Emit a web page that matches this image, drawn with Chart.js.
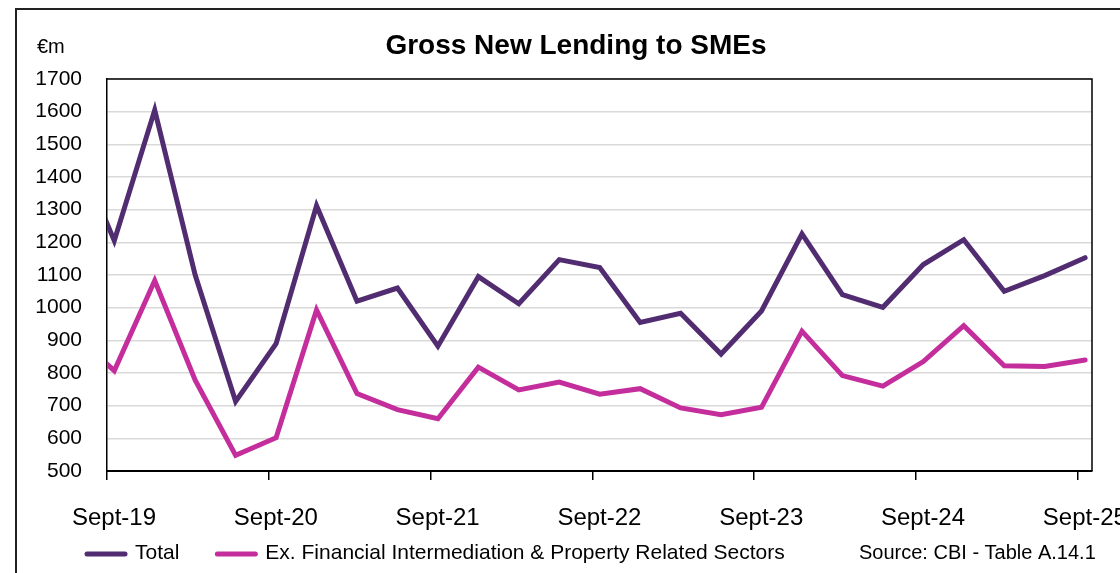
<!DOCTYPE html>
<html>
<head>
<meta charset="utf-8">
<script src="https://cdn.jsdelivr.net/npm/chart.js@4.4.1/dist/chart.umd.min.js"></script>
<style>
html,body{margin:0;padding:0;background:#fff;overflow:hidden}
#wrap{width:1120px;height:573px;position:relative}
</style>
</head>
<body>
<div id="wrap"><canvas id="c"></canvas></div>
<script>
// ---------- DATA ----------
const quarters = ['Jun-19','Sep-19','Dec-19','Mar-20','Jun-20','Sep-20','Dec-20','Mar-21','Jun-21','Sep-21','Dec-21','Mar-22','Jun-22','Sep-22','Dec-22','Mar-23','Jun-23','Sep-23','Dec-23','Mar-24','Jun-24','Sep-24','Dec-24','Mar-25','Jun-25','Sep-25'];
const totalValues = [1500,1205,1605,1100,713,890,1312,1020,1060,882,1095,1012,1147,1123,955,983,858,990,1226,1040,1001,1132,1208,1050,1098,1153];
const exFinPropValues = [920,807,1083,778,548,602,993,737,688,660,818,748,772,735,752,693,672,695,928,792,760,835,945,822,820,840];
const seriesNames = ['Total','Ex. Financial Intermediation & Property Related Sectors'];
const xTickLabels = ['Sept-19','Sept-20','Sept-21','Sept-22','Sept-23','Sept-24','Sept-25'];
const xTickQuarters = ['Sep-19','Sep-20','Sep-21','Sep-22','Sep-23','Sep-24','Sep-25'];
const yMin = 500, yMax = 1700, yStep = 100;
const titleText = 'Gross New Lending to SMEs';
const unitText = '€m';
const sourceText = 'Source: CBI - Table A.14.1';

// ---------- STYLE / LAYOUT ----------
const FONT = '"Liberation Sans", Arial, Helvetica, sans-serif';
const COLORS = ['#512c70', '#c42e9c'];
const TICK_SHIFT = -0.18;           // year tick marks sit slightly before the quarter points
const AREA = {left:107, top:79, right:1092, bottom:471};
const W = 1120, H = 573;

const xTickValues = xTickQuarters.map(q => quarters.indexOf(q) + TICK_SHIFT);

const decorPlugin = {
  id: 'decor',
  afterDraw(chart) {
    const ctx = chart.ctx;
    const ca = chart.chartArea;
    ctx.save();
    // outer frame
    ctx.strokeStyle = '#222';
    ctx.lineWidth = 2;
    ctx.strokeRect(16, 9, 1300, 800);
    // plot frame top & right
    ctx.strokeStyle = '#000';
    ctx.lineWidth = 1.5;
    ctx.beginPath();
    ctx.moveTo(ca.left, ca.top);
    ctx.lineTo(ca.right, ca.top);
    ctx.lineTo(ca.right, ca.bottom);
    ctx.stroke();
    // title
    ctx.fillStyle = '#000';
    ctx.font = 'bold 28px ' + FONT;
    ctx.textAlign = 'center';
    ctx.textBaseline = 'middle';
    ctx.fillText(titleText, 576, 46);
    // unit
    ctx.font = '20px ' + FONT;
    ctx.textAlign = 'left';
    ctx.fillText(unitText, 37, 47);
    // legend
    ctx.font = '21px ' + FONT;
    let x = 85;
    const ly = 554;
    chart.data.datasets.forEach((ds) => {
      ctx.strokeStyle = ds.borderColor;
      ctx.lineWidth = 5;
      ctx.lineCap = 'round';
      ctx.beginPath();
      ctx.moveTo(x + 2, ly);
      ctx.lineTo(x + 40, ly);
      ctx.stroke();
      ctx.fillStyle = '#000';
      ctx.textBaseline = 'middle';
      ctx.fillText(ds.label, x + 50, ly - 1);
      x += 50 + ctx.measureText(ds.label).width + 36;
    });
    // source
    ctx.font = '20px ' + FONT;
    ctx.fillText(sourceText, 859, ly - 1);
    ctx.restore();
  }
};

new Chart(document.getElementById('c'), {
  type: 'line',
  data: {
    datasets: [
      {
        label: seriesNames[0],
        data: quarters.map((q, i) => ({x: i, y: totalValues[i]})),
        borderColor: COLORS[0],
        backgroundColor: COLORS[0],
        borderWidth: 5,
        pointRadius: 0,
        tension: 0,
        borderCapStyle: 'round',
        clip: 0
      },
      {
        label: seriesNames[1],
        data: quarters.map((q, i) => ({x: i, y: exFinPropValues[i]})),
        borderColor: COLORS[1],
        backgroundColor: COLORS[1],
        borderWidth: 5,
        pointRadius: 0,
        tension: 0,
        borderCapStyle: 'round',
        clip: 0
      }
    ]
  },
  options: {
    responsive: true,
    maintainAspectRatio: false,
    animation: false,
    devicePixelRatio: 1,
    layout: { padding: { left: 0, top: AREA.top, right: W - AREA.right, bottom: 0 } },
    plugins: { legend: { display: false }, title: { display: false }, tooltip: { enabled: false } },
    scales: {
      x: {
        type: 'linear',
        min: 1 + TICK_SHIFT,
        max: 25.17,
        afterBuildTicks(scale) { scale.ticks = xTickValues.map(v => ({value: v})); },
        afterFit(scale) { scale.height = H - AREA.bottom; scale.paddingLeft = 0; scale.paddingRight = 0; },
        ticks: {
          callback: (v, i) => xTickLabels[i],
          font: { family: FONT, size: 24 },
          color: '#000',
          padding: 24,
          labelOffset: 7,
          maxRotation: 0,
          autoSkip: false
        },
        grid: { drawOnChartArea: false, drawTicks: true, tickLength: 9, color: '#000', lineWidth: 1.5 },
        border: { display: true, color: '#000', width: 2 }
      },
      y: {
        min: yMin,
        max: yMax,
        afterFit(scale) { scale.width = AREA.left; scale.paddingTop = 0; scale.paddingBottom = 0; },
        ticks: {
          stepSize: yStep,
          callback: (v) => String(v),
          font: { family: FONT, size: 21 },
          color: '#000',
          padding: 25
        },
        grid: { color: '#d9d9d9', lineWidth: 1.5, drawTicks: false },
        border: { display: true, color: '#000', width: 1.5 }
      }
    }
  },
  plugins: [decorPlugin]
});
</script>
</body>
</html>
